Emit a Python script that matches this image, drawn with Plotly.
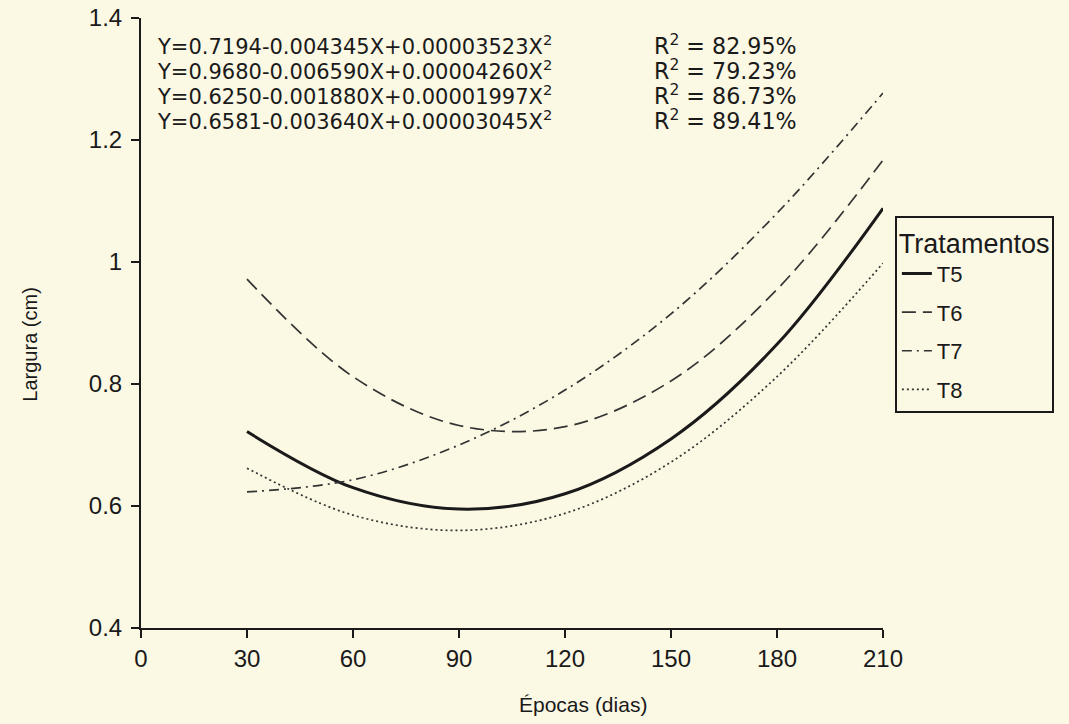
import plotly.graph_objects as go

# Leaf width (cm) per sampling date, one list per treatment
epocas = [30, 60, 90, 120, 150, 180, 210]
t5 = [0.722, 0.630, 0.595, 0.620, 0.710, 0.865, 1.088]
t6 = [0.972, 0.812, 0.732, 0.730, 0.805, 0.955, 1.167]
t7 = [0.623, 0.643, 0.700, 0.790, 0.915, 1.080, 1.277]
t8 = [0.662, 0.585, 0.560, 0.588, 0.672, 0.812, 0.998]

equacoes = [
    "Y=0.7194-0.004345X+0.00003523X<sup>2</sup>",
    "Y=0.9680-0.006590X+0.00004260X<sup>2</sup>",
    "Y=0.6250-0.001880X+0.00001997X<sup>2</sup>",
    "Y=0.6581-0.003640X+0.00003045X<sup>2</sup>",
]
r2 = ["82.95%", "79.23%", "86.73%", "89.41%"]

x_ticks = [0, 30, 60, 90, 120, 150, 180, 210]
y_ticks = [0.4, 0.6, 0.8, 1.0, 1.2, 1.4]
y_labels = ["0.4", "0.6", "0.8", "1", "1.2", "1.4"]

bg = "#FBF8E4"
ink = "#1a1a1a"
font = "Liberation Sans, Arial, sans-serif"
eq_font = "DejaVu Sans, Liberation Sans, sans-serif"

series = [
    ("T5", t5, dict(color=ink, width=3, dash="solid")),
    ("T6", t6, dict(color="#333333", width=1.7, dash="14px,7px")),
    ("T7", t7, dict(color="#333333", width=1.7, dash="10px,5px,2px,5px")),
    ("T8", t8, dict(color="#333333", width=1.7, dash="2px,3px")),
]

fig = go.Figure()
for name, ys, line in series:
    fig.add_trace(go.Scatter(
        x=epocas, y=ys, name=name, mode="lines",
        line=dict(shape="spline", smoothing=1.0, **line),
        legendgroup=name,
    ))

annotations = []
for i, (eq, r) in enumerate(zip(equacoes, r2)):
    yp = 1.3557 - i * 0.041
    annotations.append(dict(
        x=3.9, y=yp, xref="x", yref="y", text=eq, showarrow=False,
        xanchor="left", yanchor="middle",
        font=dict(family=eq_font, size=21, color=ink),
    ))
    annotations.append(dict(
        x=144.6, y=yp, xref="x", yref="y", text="R<sup>2</sup> = " + r,
        showarrow=False, xanchor="left", yanchor="middle",
        font=dict(family=eq_font, size=22.2, color=ink),
    ))

# axis titles
annotations.append(dict(
    x=125, y=-0.126, xref="x", yref="paper", text="Épocas (dias)",
    showarrow=False, xanchor="center", yanchor="middle",
    font=dict(family=font, size=21, color=ink),
))
annotations.append(dict(
    x=-0.15, y=0.464, xref="paper", yref="paper", text="Largura (cm)",
    showarrow=False, xanchor="center", yanchor="middle", textangle=-90,
    font=dict(family=font, size=20, color=ink),
))

fig.update_layout(
    width=1069, height=724,
    paper_bgcolor=bg, plot_bgcolor=bg,
    margin=dict(l=141, r=186, t=18, b=96, autoexpand=False),
    font=dict(family=font, size=22, color=ink),
    showlegend=True,
    legend=dict(
        x=1.016, y=0.676, xanchor="left", yanchor="top",
        bgcolor=bg, bordercolor=ink, borderwidth=2,
        title=dict(text="Tratamentos",
                   font=dict(family=font, size=27, color=ink)),
        font=dict(family=font, size=22, color=ink),
        itemwidth=30, tracegroupgap=7,
    ),
    annotations=annotations,
    xaxis=dict(
        range=[0, 210], tickvals=x_ticks, ticktext=[str(v) for v in x_ticks],
        showgrid=False, zeroline=False, showline=True, linecolor=ink,
        linewidth=2, ticks="outside", ticklen=8, tickwidth=1.8,
        tickcolor=ink, tickfont=dict(family=font, size=24, color=ink),
    ),
    yaxis=dict(
        range=[0.4, 1.4], tickvals=y_ticks, ticktext=y_labels,
        showgrid=False, zeroline=False, showline=True, linecolor=ink,
        linewidth=2, ticks="outside", ticklen=8, tickwidth=1.8,
        tickcolor=ink, tickfont=dict(family=font, size=24, color=ink),
        ticklabelstandoff=4,
    ),
)

fig.write_html("out.html")
